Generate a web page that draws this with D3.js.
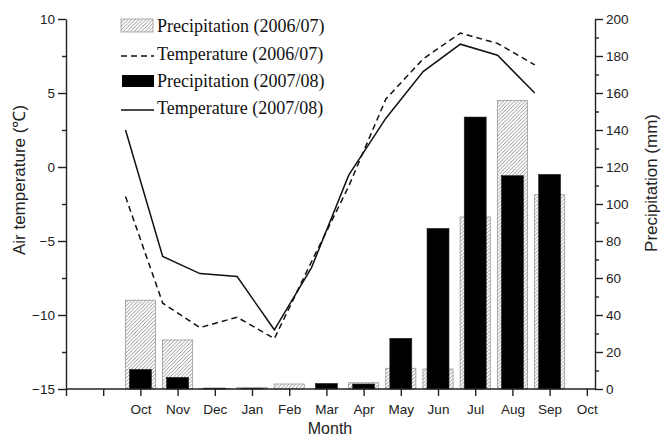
<!DOCTYPE html>
<html>
<head>
<meta charset="utf-8">
<script src="https://cdn.jsdelivr.net/npm/d3@7"></script>
<style>
  body { margin: 0; background: #fff; }
  svg { display: block; }
  .tick text { font-family: "Liberation Sans", Arial, sans-serif; font-size: 13.5px; fill: #222; }
  .axis path, .axis line { stroke: #222; stroke-width: 1.4px; }
</style>
</head>
<body>
<svg id="chart" width="666" height="437"></svg>
<script>
// months on the x axis (Oct .. Oct)
const months = ["Oct","Nov","Dec","Jan","Feb","Mar","Apr","May","Jun","Jul","Aug","Sep","Oct"];
// precipitation (mm), Oct..Sep
const precip0607 = [48, 26.5, 0.3, 0.8, 2.7, 0, 3.4, 11.2, 10.8, 93, 156, 105];
const precip0708 = [10.6, 6.3, 0.5, 0.3, 0, 3, 2.7, 27.4, 86.8, 147, 115.3, 116];
// air temperature (°C), Oct..Sep
const temp0607 = [-2.0, -9.2, -10.85, -10.15, -11.6, -6.4, -1.3, 4.6, 7.3, 9.05, 8.35, 6.9];
const temp0708 = [2.5, -6.05, -7.2, -7.4, -11.0, -6.8, -0.55, 3.3, 6.45, 8.3, 7.55, 5.0];
// tick values
const tempTicks = [-15, -10, -5, 0, 5, 10];
const precipTicks = [0, 20, 40, 60, 80, 100, 120, 140, 160, 180, 200];
const legendLabels = ["Precipitation (2006/07)", "Temperature (2006/07)", "Precipitation (2007/08)", "Temperature (2007/08)"];

const svg = d3.select("#chart");
const mLeft = 66, mRight = 595, mTop = 19, mBottom = 389;

const x = d3.scaleLinear().domain([-2, 12.22]).range([mLeft, mRight]);
const yT = d3.scaleLinear().domain([-15, 10]).range([mBottom, mTop]);
const yP = d3.scaleLinear().domain([0, 200]).range([mBottom, mTop]);

// hatch pattern for 2006/07 bars
const defs = svg.append("defs");
const pat = defs.append("pattern").attr("id", "hatch")
  .attr("patternUnits", "userSpaceOnUse").attr("width", 3.6).attr("height", 3.6);
pat.append("rect").attr("width", 3.6).attr("height", 3.6).attr("fill", "#fff");
pat.append("path").attr("d", "M-0.9,0.9 l1.8,-1.8 M0,3.6 l3.6,-3.6 M2.7,4.5 l1.8,-1.8")
  .attr("stroke", "#8a8a8a").attr("stroke-width", 0.9);

const wide = x(0.81) - x(0), narrow = x(0.59) - x(0);

svg.append("g").selectAll("rect").data(precip0607).join("rect")
  .attr("x", (d, i) => x(i) - wide / 2).attr("width", wide)
  .attr("y", d => yP(d)).attr("height", d => yP(0) - yP(d))
  .attr("fill", "url(#hatch)").attr("stroke", "#999").attr("stroke-width", 0.8);

svg.append("g").selectAll("rect").data(precip0708).join("rect")
  .attr("x", (d, i) => x(i) - narrow / 2).attr("width", narrow)
  .attr("y", d => yP(d)).attr("height", d => yP(0) - yP(d))
  .attr("fill", "#000").attr("stroke", "#222").attr("stroke-width", 0.6);

// temperature lines (plotted a bit before each month tick)
const line = d3.line().x((d, i) => x(i - 0.4)).y(d => yT(d));
svg.append("path").datum(temp0607).attr("d", line)
  .attr("fill", "none").attr("stroke", "#111").attr("stroke-width", 1.5).attr("stroke-dasharray", "6,4");
svg.append("path").datum(temp0708).attr("d", line)
  .attr("fill", "none").attr("stroke", "#111").attr("stroke-width", 1.5);

// axes
const gl = svg.append("g").attr("class", "axis").attr("transform", `translate(${mLeft},0)`);
gl.call(d3.axisLeft(yT).tickValues(tempTicks).tickSize(8).tickSizeOuter(0).tickPadding(3).tickFormat(d3.format("d")));
gl.append("g").call(d3.axisLeft(yT).tickValues(d3.range(-12.5, 10, 5)).tickSize(4).tickFormat(""))
  .select(".domain").remove();

const gr = svg.append("g").attr("class", "axis").attr("transform", `translate(${mRight},0)`);
gr.call(d3.axisRight(yP).tickValues(precipTicks).tickSize(8).tickSizeOuter(0).tickPadding(3));
gr.append("g").call(d3.axisRight(yP).tickValues(d3.range(10, 200, 20)).tickSize(4).tickFormat(""))
  .select(".domain").remove();

const gb = svg.append("g").attr("class", "axis").attr("transform", `translate(0,${mBottom})`);
gb.call(d3.axisBottom(x).tickValues(d3.range(-2, 13)).tickSize(7).tickSizeOuter(0).tickPadding(8)
  .tickFormat(i => i >= 0 ? months[i] : ""));
gb.select(".domain").attr("d", `M${mLeft},0H${mRight}`);

// axis titles
svg.append("text").attr("transform", "translate(25,180) rotate(-90)")
  .attr("text-anchor", "middle").attr("font-family", "Liberation Sans, Arial, sans-serif")
  .attr("font-size", 17).attr("fill", "#222").text("Air temperature (\u2103)");
svg.append("text").attr("transform", "translate(657,183) rotate(-90)")
  .attr("text-anchor", "middle").attr("font-family", "Liberation Sans, Arial, sans-serif")
  .attr("font-size", 17).attr("fill", "#222").text("Precipitation (mm)");
svg.append("text").attr("x", 330).attr("y", 434)
  .attr("text-anchor", "middle").attr("font-family", "Liberation Sans, Arial, sans-serif")
  .attr("font-size", 16).attr("fill", "#222").text("Month");

// legend
const lg = svg.append("g");
const rowY = [26, 54, 81, 108];
legendLabels.forEach((t, i) => {
  const cy = rowY[i];
  if (i === 0) lg.append("rect").attr("x", 121).attr("y", cy - 7).attr("width", 32).attr("height", 13)
    .attr("fill", "url(#hatch)").attr("stroke", "#999").attr("stroke-width", 0.8);
  if (i === 2) lg.append("rect").attr("x", 122).attr("y", cy - 6).attr("width", 32).attr("height", 12)
    .attr("fill", "#000");
  if (i === 1) lg.append("line").attr("x1", 121).attr("x2", 154).attr("y1", cy + 2).attr("y2", cy + 2)
    .attr("stroke", "#111").attr("stroke-width", 1.5).attr("stroke-dasharray", "6,4");
  if (i === 3) lg.append("line").attr("x1", 121).attr("x2", 154).attr("y1", cy + 2).attr("y2", cy + 2)
    .attr("stroke", "#111").attr("stroke-width", 1.5);
  lg.append("text").attr("x", 157).attr("y", cy).attr("dy", "0.35em")
    .attr("font-family", "Liberation Serif, Times New Roman, serif").attr("font-size", 18)
    .attr("fill", "#111").text(t);
});
</script>
</body>
</html>
